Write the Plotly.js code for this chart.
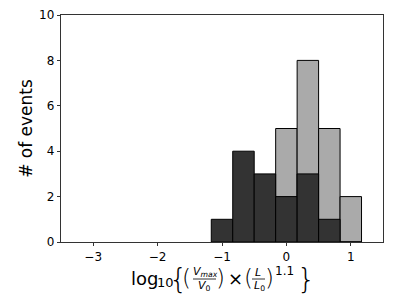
<!DOCTYPE html>
<html>
<head>
<meta charset="utf-8">
<script src="https://cdn.plot.ly/plotly-3.0.1.min.js"></script>
<style>html,body{margin:0;padding:0;background:#fff;}#chart{width:404px;height:303px;}</style>
</head>
<body>
<div id="chart"></div>
<script>
// Histogram bin centres (bin width 1/3)
const binCenters = [-1, -2/3, -1/3, 0, 1/3, 2/3, 1];
// Light gray series counts
const lightCounts = [0, 0, 0, 5, 8, 5, 2];
// Dark gray series counts
const darkCounts = [1, 4, 3, 2, 3, 1, 0];
const binWidth = 1/3;
const xTickVals = [-3, -2, -1, 0, 1];
const xTickText = ['\u22123', '\u22122', '\u22121', '0', '1'];
const yTickVals = [0, 2, 4, 6, 8, 10];

const W = 404, H = 303;
const M = {l: 61, r: 21, t: 15, b: 61};
const pw = W - M.l - M.r, ph = H - M.t - M.b;
const FONT = 'DejaVu Sans';

function ann(text, px, py, size, extra, weight) {
  return Object.assign({
    xref: 'paper', yref: 'paper',
    x: (px - M.l) / pw, y: (H - M.b - py) / ph,
    xanchor: 'center', yanchor: 'middle',
    showarrow: false, text: text,
    font: {family: FONT, size: size, color: '#000', weight: weight || 'normal'}
  }, extra || {});
}
function hline(px0, px1, py) {
  return {type: 'line', xref: 'paper', yref: 'paper',
    x0: (px0 - M.l) / pw, x1: (px1 - M.l) / pw,
    y0: (H - M.b - py) / ph, y1: (H - M.b - py) / ph,
    line: {color: '#000', width: 0.8}};
}

const traces = [
  {type: 'bar', x: binCenters, y: lightCounts, width: binWidth,
   marker: {color: '#aaaaaa', line: {color: '#000', width: 1}}},
  {type: 'bar', x: binCenters, y: darkCounts, width: binWidth,
   marker: {color: '#333333', line: {color: '#000', width: 1}}}
];

const layout = {
  width: W, height: H,
  margin: M,
  paper_bgcolor: '#fff', plot_bgcolor: '#fff',
  barmode: 'overlay',
  showlegend: false,
  font: {family: FONT, color: '#000'},
  xaxis: {
    range: [-3.5, 1.5], tickvals: xTickVals, ticktext: xTickText,
    ticks: 'outside', ticklen: 3.5, tickwidth: 0.8, tickcolor: '#000',
    showgrid: false, zeroline: false,
    showline: true, linecolor: '#000', linewidth: 0.8, mirror: true,
    tickfont: {family: FONT, size: 12, color: '#000'}
  },
  yaxis: {
    range: [0, 10], tickvals: yTickVals,
    ticks: 'outside', ticklen: 3.5, tickwidth: 0.8, tickcolor: '#000',
    showgrid: false, zeroline: false,
    showline: true, linecolor: '#000', linewidth: 0.8, mirror: true,
    tickfont: {family: FONT, size: 12, color: '#000'},
    title: {text: '# of events', font: {family: FONT, size: 17, color: '#000'}, standoff: 1}
  },
  annotations: [
    ann('log', 129, 278, 18, {xanchor: 'left'}),
    ann('10', 165, 282, 13),
    ann('{', 177.5, 279, 29, null, 200),
    ann('(', 186, 278, 23, null, 200),
    ann('<i>V</i><sub><i>max</i></sub>', 205, 272, 11),
    ann('<i>V</i><sub>0</sub>', 204, 286, 11),
    ann(')', 220.5, 278, 23, null, 200),
    ann('\u00d7', 235, 278, 18),
    ann('(', 248, 278, 23, null, 200),
    ann('<i>L</i>', 258, 272, 11),
    ann('<i>L</i><sub>0</sub>', 259, 286, 11),
    ann(')', 269.5, 278, 23, null, 200),
    ann('1.1', 284, 271, 12),
    ann('}', 306, 279, 29, null, 200)
  ],
  shapes: [hline(193, 216, 279), hline(252, 265, 279)]
};

Plotly.newPlot('chart', traces, layout, {staticPlot: true, displayModeBar: false});
</script>
</body>
</html>
